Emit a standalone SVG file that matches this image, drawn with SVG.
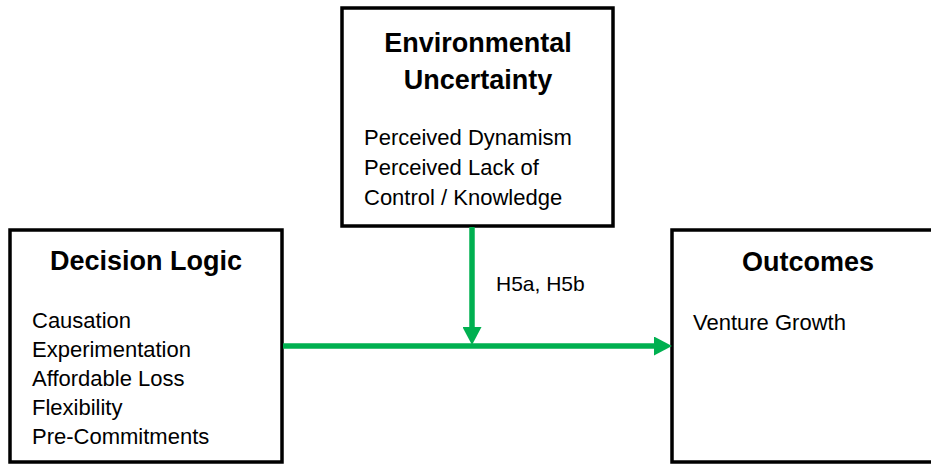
<svg xmlns="http://www.w3.org/2000/svg" width="931" height="464" viewBox="0 0 931 464">
  <style>
    .box { fill: #ffffff; stroke: #000000; stroke-width: 3.5; }
    .title { font-family: "Liberation Sans", Arial, sans-serif; font-weight: bold; font-size: 27px; fill: #000000; text-anchor: middle; }
    .body { font-family: "Liberation Sans", Arial, sans-serif; font-size: 22px; fill: #000000; }
    .label { font-family: "Liberation Sans", Arial, sans-serif; font-size: 21px; fill: #000000; }
    .conn { stroke: #00B050; stroke-width: 5.5; fill: none; }
  </style>
  <defs>
    <marker id="head" markerUnits="userSpaceOnUse" viewBox="0 0 18 19" markerWidth="18" markerHeight="19" refX="0" refY="9.5" orient="auto">
      <path d="M0,0 L18,9.5 L0,19 Z" fill="#00B050"/>
    </marker>
  </defs>
  <rect width="931" height="464" fill="#ffffff"/>

  <g id="environmental-uncertainty">
    <rect class="box" x="342" y="8" width="271" height="218"/>
    <text class="title" x="478" y="52">Environmental</text>
    <text class="title" x="478" y="89">Uncertainty</text>
    <text class="body" x="364" y="145">Perceived Dynamism</text>
    <text class="body" x="364" y="175">Perceived Lack of</text>
    <text class="body" x="364" y="205">Control / Knowledge</text>
  </g>

  <g id="decision-logic">
    <rect class="box" x="10" y="230" width="272" height="232"/>
    <text class="title" x="146" y="270">Decision Logic</text>
    <text class="body" x="32" y="328">Causation</text>
    <text class="body" x="32" y="357">Experimentation</text>
    <text class="body" x="32" y="386">Affordable Loss</text>
    <text class="body" x="32" y="415">Flexibility</text>
    <text class="body" x="32" y="444">Pre-Commitments</text>
  </g>

  <g id="outcomes">
    <rect class="box" x="672" y="230" width="300" height="232"/>
    <text class="title" x="808" y="271">Outcomes</text>
    <text class="body" x="693" y="330">Venture Growth</text>
  </g>

  <g id="connectors">
    <line class="conn" x1="283" y1="346" x2="654" y2="346" marker-end="url(#head)"/>
    <line class="conn" x1="472" y1="227" x2="472" y2="327" marker-end="url(#head)"/>
    <text class="label" x="496" y="291">H5a, H5b</text>
  </g>
</svg>
